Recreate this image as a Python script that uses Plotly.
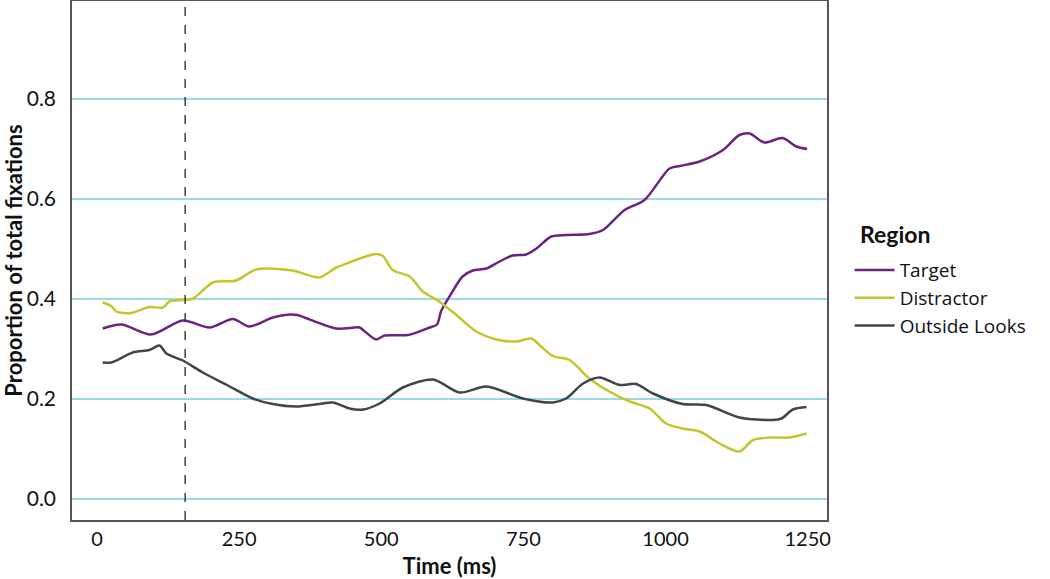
import plotly.graph_objects as go

# time (ms) and proportion of fixations
target_t = [10, 43, 95, 151, 198, 239, 268, 309, 339, 352, 421, 462, 468, 491, 506, 547, 585, 598,
            605, 620, 643, 661, 685, 708, 731, 755, 773, 799, 825, 866, 890, 928, 963, 1007, 1025,
            1060, 1101, 1130, 1148, 1174, 1206, 1230, 1249]
target_v = [0.341, 0.349, 0.329, 0.357, 0.343, 0.360, 0.345, 0.363, 0.369, 0.368, 0.341, 0.343, 0.338,
            0.319, 0.327, 0.328, 0.343, 0.349, 0.375, 0.405, 0.445, 0.457, 0.461, 0.475, 0.487, 0.489,
            0.501, 0.525, 0.528, 0.530, 0.538, 0.578, 0.598, 0.661, 0.666, 0.675, 0.698, 0.728, 0.731,
            0.713, 0.722, 0.705, 0.700]

distractor_t = [10, 25, 34, 60, 92, 116, 128, 151, 169, 204, 245, 280, 344, 391, 421, 444, 462, 491,
                503, 520, 550, 573, 602, 632, 667, 702, 737, 764, 781, 802, 831, 866, 901, 937, 972,
                1001, 1030, 1060, 1095, 1130, 1154, 1183, 1218, 1248]
distractor_v = [0.393, 0.386, 0.375, 0.372, 0.384, 0.383, 0.396, 0.398, 0.401, 0.433, 0.437, 0.459,
                0.457, 0.443, 0.463, 0.473, 0.481, 0.490, 0.486, 0.458, 0.445, 0.415, 0.395, 0.368,
                0.335, 0.319, 0.315, 0.321, 0.305, 0.286, 0.278, 0.241, 0.215, 0.195, 0.181, 0.151,
                0.141, 0.135, 0.111, 0.095, 0.118, 0.123, 0.123, 0.131]

outside_t = [10, 25, 63, 92, 110, 122, 151, 186, 227, 274, 309, 350, 391, 415, 444, 468, 497, 538,
             591, 638, 685, 749, 802, 825, 855, 884, 919, 948, 978, 1030, 1072, 1130, 1189, 1204,
             1224, 1248]
outside_v = [0.273, 0.273, 0.293, 0.298, 0.307, 0.291, 0.277, 0.253, 0.229, 0.201, 0.190, 0.185,
             0.190, 0.193, 0.181, 0.179, 0.191, 0.223, 0.239, 0.213, 0.225, 0.201, 0.193, 0.201,
             0.231, 0.243, 0.228, 0.230, 0.211, 0.190, 0.188, 0.163, 0.158, 0.161, 0.179, 0.184]

window_start = 155
x_ticks = [0, 250, 500, 750, 1000, 1250]
y_ticks = [0.0, 0.2, 0.4, 0.6, 0.8]

series = [
    ("Target", target_t, target_v, "#6b2580"),
    ("Distractor", distractor_t, distractor_v, "#c3c62b"),
    ("Outside Looks", outside_t, outside_v, "#3e474d"),
]

fig = go.Figure()
for name, t, v, color in series:
    fig.add_trace(go.Scatter(x=t, y=v, name=name, mode="lines",
                             line=dict(color=color, width=2.5, shape="spline", smoothing=0.8)))

fig.add_vline(x=window_start, line=dict(color="#222222", width=1.3, dash="dash"))

font = "Lato, 'Open Sans', sans-serif"
fig.update_layout(
    width=1050, height=579,
    margin=dict(l=72, r=223, t=1, b=59),
    plot_bgcolor="white", paper_bgcolor="white",
    font=dict(family=font, color="#111111"),
    legend=dict(
        x=1.03, xanchor="left", y=0.518, yanchor="top",
        font=dict(size=19, family="'Open Sans', sans-serif"), tracegroupgap=0, itemwidth=40,
    ),
)
# legend title as its own text so the gap above the items matches
fig.add_annotation(text="<b>Region</b>", xref="paper", yref="paper", x=1.041, y=0.551,
                   xanchor="left", yanchor="middle", showarrow=False,
                   font=dict(size=23, color="#111111"))

fig.update_xaxes(
    range=[-44, 1284], tickvals=x_ticks, showgrid=False, zeroline=False, automargin=False,
    showline=True, mirror=True, linecolor="#555555", linewidth=1.5,
    tickfont=dict(size=20), ticks="",
    title=dict(text="<b>Time (ms)</b>", font=dict(size=22), standoff=10),
)
fig.update_yaxes(
    range=[-0.042, 0.996], tickvals=y_ticks, tickformat=".1f", automargin=False,
    showgrid=True, gridcolor="#9ddae6", gridwidth=1.5, zeroline=False,
    showline=True, mirror=True, linecolor="#555555", linewidth=1.5,
    tickfont=dict(size=21), ticks="", ticklabelstandoff=10,
    title=dict(text="<b>Proportion of total fixations</b>", font=dict(size=22), standoff=2),
)

# page body has a default 8px margin; drop it so the figure sits at the window corner
fig.write_html("out.html", config={"displayModeBar": False},
               post_script="document.body.style.margin='0';")
